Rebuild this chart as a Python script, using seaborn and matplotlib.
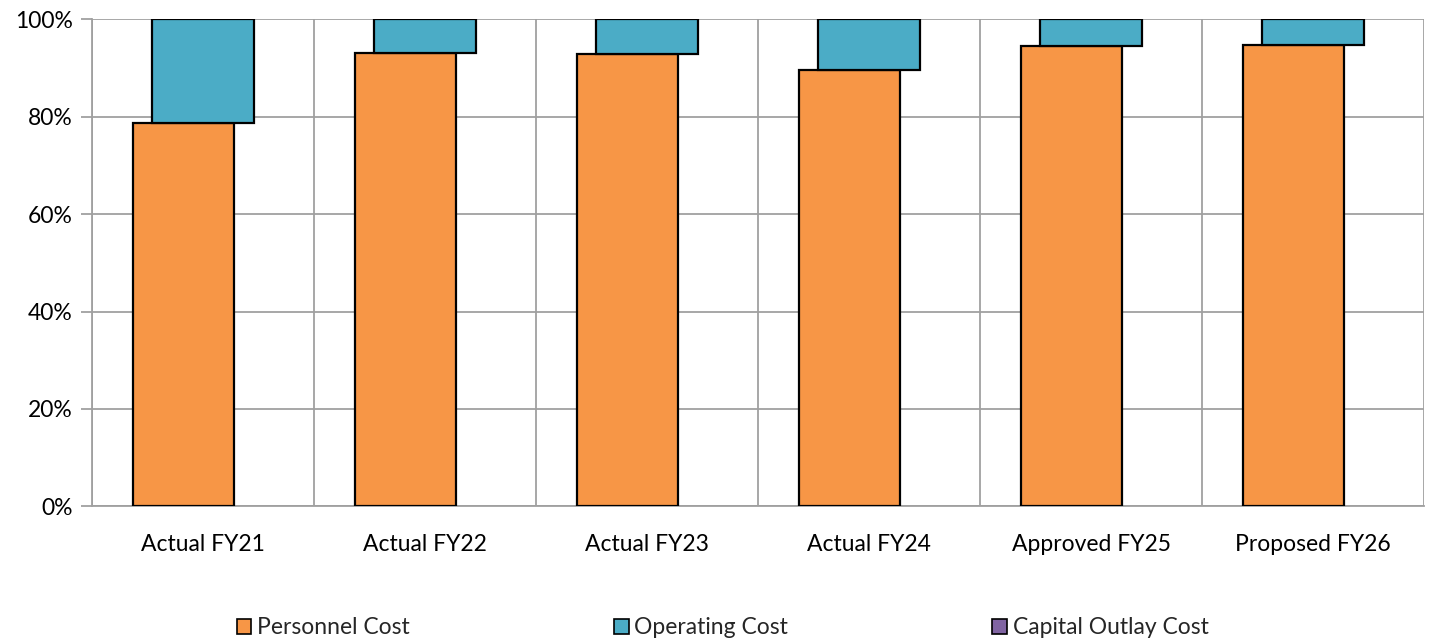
import numpy as np
import pandas as pd
import seaborn as sns
import matplotlib.pyplot as plt
from matplotlib.patches import Patch
from matplotlib.ticker import FixedLocator, FuncFormatter

categories = ["Actual FY21", "Actual FY22", "Actual FY23", "Actual FY24", "Approved FY25", "Proposed FY26"]
personnel = [78.7, 93.0, 92.9, 89.5, 94.5, 94.8]
capital = [0, 0, 0, 0, 0, 0]
operating = [100 - p - c for p, c in zip(personnel, capital)]

series = ["Personnel Cost", "Operating Cost", "Capital Outlay Cost"]
colors = ["#F79646", "#4BACC6", "#8064A2"]

sns.set_style("white")
plt.rcParams["font.family"] = ["Lato", "DejaVu Sans"]

fig = plt.figure(figsize=(14.31, 6.41), dpi=100)
ax = fig.add_axes([92 / 1431, 1 - 506.3 / 641, (1424 - 92) / 1431, (506.3 - 19.3) / 641])

bar_w = 0.455
shift = [-0.09, 0.0, 0.0]  # orange sits a bit left of the stacked part
bottoms = [np.zeros(6), np.array(personnel), np.array(personnel) + np.array(operating)]

for i, vals in enumerate([personnel, operating, capital]):
    df = pd.DataFrame({"cat": categories, "val": vals})
    n0 = len(ax.patches)
    sns.barplot(data=df, x="cat", y="val", color=colors[i], saturation=1,
                width=bar_w, edgecolor="black", linewidth=1.6, ax=ax, zorder=3)
    for j, p in enumerate(ax.patches[n0:]):
        p.set_x(p.get_x() + shift[i])
        p.set_y(bottoms[i][j])
        if vals[j] == 0:
            p.set_linewidth(0)

ax.set_xlim(-0.5, 5.5)
ax.set_ylim(0, 100)
ax.set_xlabel("")
ax.set_ylabel("")

grid_c = "#A0A0A0"
ax.set_yticks([0, 20, 40, 60, 80, 100])
ax.yaxis.set_major_formatter(FuncFormatter(lambda v, _: f"{int(v)}%"))
ax.xaxis.set_minor_locator(FixedLocator(np.arange(-0.5, 6, 1)))
ax.grid(axis="y", which="major", color=grid_c, linewidth=1.3, zorder=0)
ax.grid(axis="x", which="minor", color=grid_c, linewidth=1.3, zorder=0)
ax.grid(axis="x", which="major", visible=False)
ax.set_axisbelow(True)

ax.tick_params(axis="x", which="major", length=0, labelsize=16.5, pad=20, labelcolor="black")
ax.tick_params(axis="x", which="minor", length=8, color=grid_c, width=1.3, direction="out")
ax.tick_params(axis="y", length=8, color=grid_c, width=1.3, labelsize=16.5, pad=6, left=True,
               labelcolor="black")
for s in ["top", "right"]:
    ax.spines[s].set_visible(False)
for s in ["left", "bottom"]:
    ax.spines[s].set_color(grid_c)
    ax.spines[s].set_linewidth(1.3)

handles = [Patch(facecolor=c, edgecolor="black", linewidth=1.2, label=l) for c, l in zip(colors, series)]
fig.legend(handles=handles, loc="lower center", bbox_to_anchor=(0.505, -0.028), ncol=3,
           frameon=False, fontsize=16.5, handlelength=0.65, handleheight=0.65,
           handletextpad=0.25, columnspacing=8.9)

fig.savefig("out.png", dpi=100)
